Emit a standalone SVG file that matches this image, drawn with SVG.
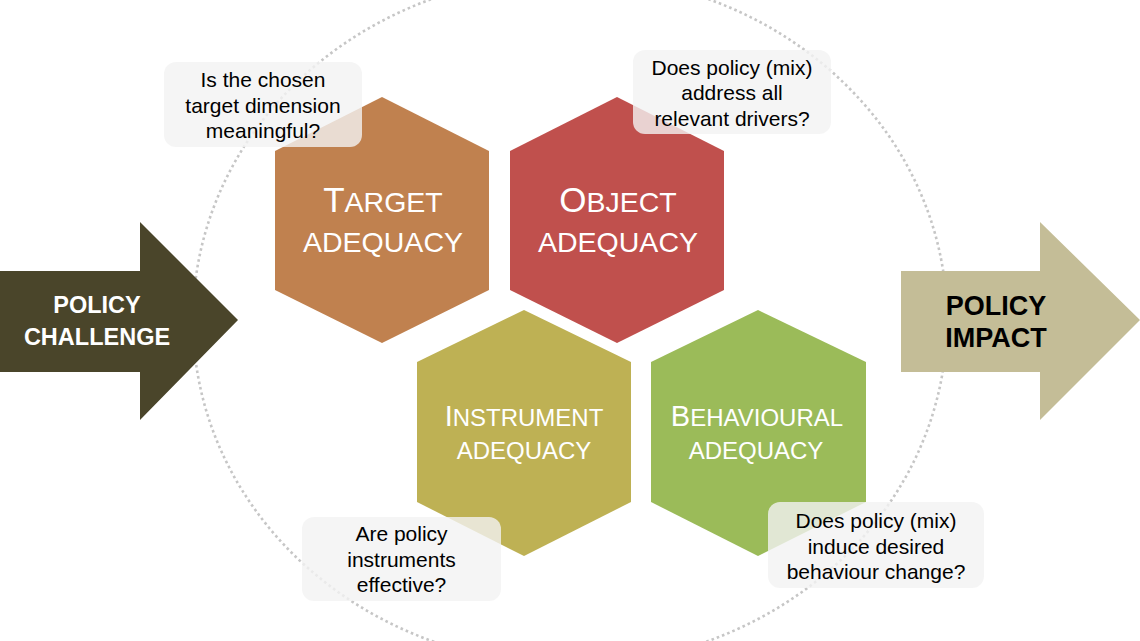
<svg xmlns="http://www.w3.org/2000/svg" width="1140" height="641" viewBox="0 0 1140 641">
  <style>
    .hex-label { font-family: "Liberation Sans", Arial, sans-serif; fill: #FFFFFF; text-anchor: middle; }
    .arrow-label { font-family: "Liberation Sans", Arial, sans-serif; font-weight: bold; text-anchor: middle; }
    .box { fill: #F2F2F2; fill-opacity: 0.8; }
    .box-text { font-family: "Liberation Sans", Arial, sans-serif; font-size: 21px; fill: #000000; text-anchor: middle; }
    .ring { fill: none; stroke: #C6C6C6; stroke-width: 2.6; stroke-dasharray: 2.6 3; }
  </style>
  <rect width="1140" height="641" fill="#FFFFFF"/>

  <g id="ring">
    <ellipse class="ring" cx="570" cy="320" rx="377" ry="345"/>
  </g>

  <g id="policy-challenge">
    <path d="M0,271 H140 V222 L238,320 L140,420 V372 H0 Z" fill="#4A452A"/>
    <text class="arrow-label" x="97" y="313" font-size="23.5" fill="#FFFFFF">POLICY</text>
    <text class="arrow-label" x="97" y="345" font-size="23.5" fill="#FFFFFF">CHALLENGE</text>
  </g>

  <g id="policy-impact">
    <path d="M901,271 H1040 V222 L1140,320 L1040,420 V372 H901 Z" fill="#C4BD97"/>
    <text class="arrow-label" x="996" y="315" font-size="27" fill="#000000">POLICY</text>
    <text class="arrow-label" x="996" y="347" font-size="27" fill="#000000">IMPACT</text>
  </g>

  <g id="target-adequacy">
    <polygon points="382,97 489,151 489,290 382,343 275,290 275,151" fill="#C0814F"/>
    <text class="hex-label" x="383" y="212"><tspan font-size="35">T</tspan><tspan font-size="28.5">ARGET</tspan></text>
    <text class="hex-label" x="383" y="252" font-size="28.5">ADEQUACY</text>
  </g>

  <g id="object-adequacy">
    <polygon points="617,97 724,151 724,290 617,343 510,290 510,151" fill="#C0504D"/>
    <text class="hex-label" x="618" y="212"><tspan font-size="35">O</tspan><tspan font-size="28.5">BJECT</tspan></text>
    <text class="hex-label" x="618" y="252" font-size="28.5">ADEQUACY</text>
  </g>

  <g id="instrument-adequacy">
    <polygon points="524,310 631,362 631,502 524,556 417,502 417,362" fill="#BEB154"/>
    <text class="hex-label" x="524" y="426"><tspan font-size="29">I</tspan><tspan font-size="24">NSTRUMENT</tspan></text>
    <text class="hex-label" x="524" y="459" font-size="24">ADEQUACY</text>
  </g>

  <g id="behavioural-adequacy">
    <polygon points="758,310 866,362 866,502 758,556 651,502 651,362" fill="#9BBB59"/>
    <text class="hex-label" x="757" y="426"><tspan font-size="29">B</tspan><tspan font-size="24">EHAVIOURAL</tspan></text>
    <text class="hex-label" x="756" y="459" font-size="24">ADEQUACY</text>
  </g>

  <g id="question-target">
    <rect class="box" x="164" y="62" width="198" height="85" rx="12"/>
    <text class="box-text" x="263" y="87">Is the chosen</text>
    <text class="box-text" x="263" y="112.5">target dimension</text>
    <text class="box-text" x="263" y="138">meaningful?</text>
  </g>

  <g id="question-object">
    <rect class="box" x="633" y="50" width="198" height="84" rx="12"/>
    <text class="box-text" x="732" y="74.5">Does policy (mix)</text>
    <text class="box-text" x="732" y="100">address all</text>
    <text class="box-text" x="732" y="125.5">relevant drivers?</text>
  </g>

  <g id="question-instrument">
    <rect class="box" x="302" y="517" width="199" height="84" rx="12"/>
    <text class="box-text" x="401.5" y="541">Are policy</text>
    <text class="box-text" x="401.5" y="566.5">instruments</text>
    <text class="box-text" x="401.5" y="591.5">effective?</text>
  </g>

  <g id="question-behavioural">
    <rect class="box" x="768" y="502" width="216" height="86" rx="12"/>
    <text class="box-text" x="876" y="528">Does policy (mix)</text>
    <text class="box-text" x="876" y="553.5">induce desired</text>
    <text class="box-text" x="876" y="578.5">behaviour change?</text>
  </g>

  <g id="connectors"/>
</svg>
